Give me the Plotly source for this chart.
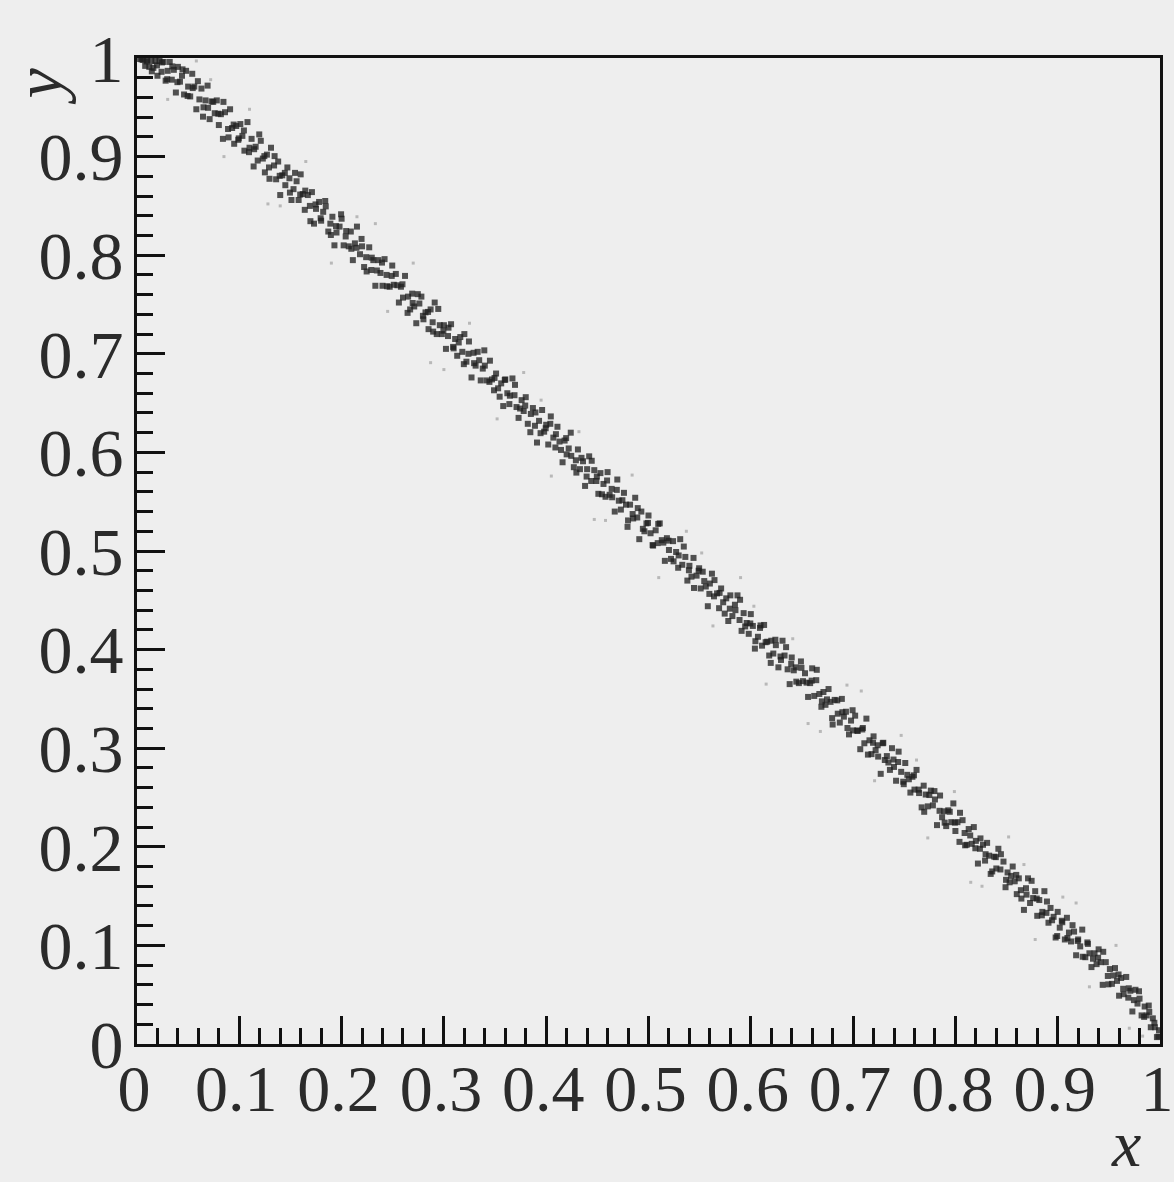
import plotly.graph_objects as go

# Dense band of (x, y) measurements lying just above the anti-diagonal
band_points = [
    (0.003, 0.999), (0.006, 0.998), (0.008, 0.992), (0.010, 0.998), (0.012, 0.991), (0.014, 0.997),
    (0.016, 0.990), (0.018, 0.997), (0.020, 0.982), (0.022, 0.997), (0.024, 0.986), (0.026, 0.996),
    (0.028, 0.977), (0.030, 0.987), (0.032, 0.996), (0.034, 0.978), (0.036, 0.988), (0.038, 0.965),
    (0.040, 0.991), (0.042, 0.976), (0.044, 0.982), (0.046, 0.963), (0.048, 0.987),
    (0.050, 0.971), (0.052, 0.961), (0.054, 0.984), (0.056, 0.971), (0.058, 0.948), (0.061, 0.958),
    (0.063, 0.969), (0.065, 0.950), (0.067, 0.957), (0.069, 0.972), (0.071, 0.938), (0.073, 0.956),
    (0.076, 0.944), (0.078, 0.957), (0.080, 0.932), (0.082, 0.943), (0.084, 0.918), (0.086, 0.945),
    (0.089, 0.928), (0.091, 0.948), (0.093, 0.929), (0.095, 0.913), (0.097, 0.931), (0.099, 0.917),
    (0.101, 0.933), (0.103, 0.921), (0.105, 0.906), (0.108, 0.935), (0.110, 0.909), (0.112, 0.918),
    (0.114, 0.890), (0.116, 0.910), (0.118, 0.896), (0.121, 0.916), (0.123, 0.898), (0.125, 0.884),
    (0.127, 0.902), (0.129, 0.889), (0.131, 0.909), (0.134, 0.891), (0.136, 0.877), (0.138, 0.895),
    (0.140, 0.861), (0.142, 0.881), (0.145, 0.871), (0.147, 0.889), (0.149, 0.878),
    (0.151, 0.856), (0.153, 0.867), (0.156, 0.875), (0.158, 0.856), (0.160, 0.882), (0.162, 0.862),
    (0.164, 0.846), (0.167, 0.861), (0.169, 0.850), (0.171, 0.864), (0.173, 0.832), (0.175, 0.847),
    (0.178, 0.854), (0.180, 0.835), (0.182, 0.844), (0.184, 0.855), (0.187, 0.824), (0.189, 0.832),
    (0.191, 0.839), (0.193, 0.810), (0.195, 0.823), (0.198, 0.829),
    (0.200, 0.837), (0.202, 0.810), (0.204, 0.819), (0.207, 0.809), (0.209, 0.824), (0.211, 0.795),
    (0.213, 0.812), (0.215, 0.829), (0.218, 0.801), (0.220, 0.809), (0.222, 0.788), (0.224, 0.798),
    (0.227, 0.808), (0.229, 0.785), (0.231, 0.795), (0.233, 0.769), (0.236, 0.795), (0.238, 0.782),
    (0.240, 0.769), (0.242, 0.796), (0.244, 0.780), (0.247, 0.768), (0.249, 0.779),
    (0.251, 0.770), (0.253, 0.781), (0.256, 0.752), (0.258, 0.768), (0.260, 0.757), (0.262, 0.779),
    (0.265, 0.758), (0.267, 0.745), (0.269, 0.761), (0.271, 0.748), (0.273, 0.731), (0.276, 0.751),
    (0.278, 0.758), (0.280, 0.735), (0.282, 0.742), (0.285, 0.725), (0.287, 0.745), (0.289, 0.732),
    (0.291, 0.752), (0.293, 0.720), (0.296, 0.729), (0.298, 0.720),
    (0.300, 0.729), (0.302, 0.705), (0.304, 0.718), (0.307, 0.730), (0.309, 0.707), (0.311, 0.715),
    (0.313, 0.698), (0.316, 0.717), (0.318, 0.702), (0.320, 0.720), (0.322, 0.692), (0.324, 0.700),
    (0.327, 0.676), (0.329, 0.701), (0.331, 0.688), (0.333, 0.702), (0.336, 0.673), (0.338, 0.685),
    (0.340, 0.688), (0.342, 0.673), (0.345, 0.693), (0.347, 0.674), (0.349, 0.663),
    (0.351, 0.680), (0.353, 0.665), (0.356, 0.670), (0.358, 0.647), (0.360, 0.674), (0.362, 0.660),
    (0.364, 0.649), (0.367, 0.675), (0.369, 0.658), (0.371, 0.646), (0.373, 0.635), (0.376, 0.653),
    (0.378, 0.642), (0.380, 0.656), (0.382, 0.629), (0.385, 0.639), (0.387, 0.645), (0.389, 0.627),
    (0.391, 0.610), (0.393, 0.632), (0.396, 0.643), (0.398, 0.621),
    (0.400, 0.628), (0.402, 0.608), (0.404, 0.629), (0.407, 0.615), (0.409, 0.605), (0.411, 0.626),
    (0.413, 0.611), (0.416, 0.590), (0.418, 0.612), (0.420, 0.598), (0.422, 0.604), (0.424, 0.620),
    (0.427, 0.585), (0.429, 0.592), (0.431, 0.603), (0.433, 0.583), (0.436, 0.591), (0.438, 0.566),
    (0.440, 0.583), (0.442, 0.596), (0.444, 0.571), (0.447, 0.582), (0.449, 0.571),
    (0.451, 0.558), (0.453, 0.579), (0.456, 0.568), (0.458, 0.555), (0.460, 0.580), (0.462, 0.557),
    (0.464, 0.563), (0.467, 0.540), (0.469, 0.562), (0.471, 0.551), (0.473, 0.542), (0.476, 0.559),
    (0.478, 0.547), (0.480, 0.531), (0.482, 0.547), (0.485, 0.533), (0.487, 0.554), (0.489, 0.534),
    (0.491, 0.512), (0.493, 0.540), (0.496, 0.520), (0.498, 0.528),
    (0.500, 0.536), (0.502, 0.518), (0.504, 0.506), (0.507, 0.521), (0.509, 0.508), (0.511, 0.528),
    (0.513, 0.511), (0.516, 0.490), (0.518, 0.513), (0.520, 0.501), (0.522, 0.492), (0.524, 0.510),
    (0.527, 0.499), (0.529, 0.483), (0.531, 0.512), (0.533, 0.486), (0.536, 0.494), (0.538, 0.470),
    (0.540, 0.485), (0.542, 0.474), (0.544, 0.493), (0.547, 0.475), (0.549, 0.480),
    (0.551, 0.462), (0.553, 0.479), (0.556, 0.464), (0.558, 0.444), (0.560, 0.467), (0.562, 0.477),
    (0.564, 0.454), (0.567, 0.457), (0.569, 0.442), (0.571, 0.462), (0.573, 0.448), (0.576, 0.452),
    (0.578, 0.429), (0.580, 0.455), (0.582, 0.434), (0.585, 0.440), (0.587, 0.455), (0.589, 0.430),
    (0.591, 0.419), (0.593, 0.437), (0.596, 0.427), (0.598, 0.416),
    (0.600, 0.436), (0.602, 0.424), (0.604, 0.401), (0.607, 0.413), (0.609, 0.422), (0.611, 0.404),
    (0.613, 0.425), (0.616, 0.408), (0.618, 0.394), (0.620, 0.409), (0.622, 0.396), (0.624, 0.410),
    (0.627, 0.382), (0.629, 0.393), (0.631, 0.409), (0.633, 0.394), (0.636, 0.380), (0.638, 0.365),
    (0.640, 0.392), (0.642, 0.379), (0.644, 0.382), (0.647, 0.366), (0.649, 0.388),
    (0.651, 0.368), (0.653, 0.376), (0.656, 0.352), (0.658, 0.366), (0.660, 0.381), (0.662, 0.353),
    (0.664, 0.369), (0.667, 0.355), (0.669, 0.342), (0.671, 0.357), (0.673, 0.344), (0.676, 0.360),
    (0.678, 0.347), (0.680, 0.324), (0.682, 0.349), (0.685, 0.335), (0.687, 0.326), (0.689, 0.350),
    (0.691, 0.332), (0.693, 0.337), (0.696, 0.314), (0.698, 0.328),
    (0.700, 0.318), (0.702, 0.333), (0.704, 0.318), (0.707, 0.299), (0.709, 0.319), (0.711, 0.305),
    (0.713, 0.330), (0.716, 0.308), (0.718, 0.294), (0.720, 0.312), (0.722, 0.298), (0.724, 0.303),
    (0.727, 0.274), (0.729, 0.305), (0.731, 0.288), (0.733, 0.292), (0.736, 0.278), (0.738, 0.300),
    (0.740, 0.281), (0.742, 0.267), (0.744, 0.286), (0.747, 0.276), (0.749, 0.266),
    (0.751, 0.285), (0.753, 0.273), (0.756, 0.255), (0.758, 0.271), (0.760, 0.258), (0.762, 0.278),
    (0.764, 0.258), (0.767, 0.240), (0.769, 0.262), (0.771, 0.253), (0.773, 0.241), (0.776, 0.257),
    (0.778, 0.242), (0.780, 0.248), (0.782, 0.222), (0.785, 0.252), (0.787, 0.230), (0.789, 0.236),
    (0.791, 0.221), (0.793, 0.237), (0.796, 0.225), (0.798, 0.244),
    (0.800, 0.216), (0.802, 0.225), (0.804, 0.205), (0.807, 0.227), (0.809, 0.214), (0.811, 0.202),
    (0.813, 0.218), (0.816, 0.203), (0.818, 0.220), (0.820, 0.206), (0.822, 0.183), (0.824, 0.198),
    (0.827, 0.202), (0.829, 0.186), (0.831, 0.204), (0.833, 0.191), (0.836, 0.175), (0.838, 0.190),
    (0.840, 0.178), (0.842, 0.198), (0.844, 0.177), (0.847, 0.185), (0.849, 0.159),
    (0.851, 0.174), (0.853, 0.164), (0.856, 0.180), (0.858, 0.165), (0.860, 0.152), (0.862, 0.168),
    (0.864, 0.156), (0.867, 0.136), (0.869, 0.158), (0.871, 0.168), (0.873, 0.143), (0.876, 0.148),
    (0.878, 0.155), (0.880, 0.130), (0.882, 0.146), (0.885, 0.134), (0.887, 0.155), (0.889, 0.133),
    (0.891, 0.123), (0.893, 0.138), (0.896, 0.129), (0.898, 0.108),
    (0.900, 0.134), (0.902, 0.118), (0.904, 0.125), (0.907, 0.106), (0.909, 0.128), (0.911, 0.113),
    (0.913, 0.104), (0.916, 0.114), (0.918, 0.090), (0.920, 0.106), (0.922, 0.099), (0.924, 0.116),
    (0.927, 0.088), (0.929, 0.103), (0.931, 0.092), (0.933, 0.078), (0.936, 0.092), (0.938, 0.081),
    (0.940, 0.096), (0.942, 0.083), (0.944, 0.060), (0.947, 0.083), (0.949, 0.069),
    (0.951, 0.076), (0.953, 0.061), (0.956, 0.077), (0.958, 0.064), (0.960, 0.049), (0.962, 0.067),
    (0.964, 0.056), (0.967, 0.068), (0.969, 0.047), (0.971, 0.054), (0.973, 0.033), (0.976, 0.055),
    (0.978, 0.041), (0.980, 0.046), (0.982, 0.029), (0.985, 0.038), (0.987, 0.029), (0.989, 0.039),
    (0.991, 0.017), (0.993, 0.026), (0.995, 0.017), (0.997, 0.007), (0.999, 0.014),
]

# Further band points falling between the ones above
band_points_b = [
    (0.0045, 0.9985), (0.0095, 0.9965), (0.0145, 0.9865), (0.0195, 0.9925), (0.0245, 0.9955),
    (0.0295, 0.9785), (0.0345, 0.9915), (0.0395, 0.9755), (0.0445, 0.9885), (0.0495, 0.9615),
    (0.0545, 0.9695), (0.0595, 0.9765), (0.0645, 0.9405), (0.0695, 0.9495), (0.0745, 0.9555),
    (0.0795, 0.9435), (0.0845, 0.9555), (0.0895, 0.9195), (0.0945, 0.9325), (0.0995, 0.9185),
    (0.1045, 0.9265), (0.1095, 0.9045), (0.1145, 0.9075), (0.1195, 0.9225), (0.1245, 0.9005),
    (0.1295, 0.8775), (0.1345, 0.9005), (0.1395, 0.8805), (0.1445, 0.8835), (0.1495, 0.8635),
    (0.1545, 0.8835), (0.1595, 0.8615), (0.1645, 0.8655), (0.1695, 0.8345), (0.1745, 0.8515),
    (0.1795, 0.8375), (0.1845, 0.8495), (0.1895, 0.8205), (0.1945, 0.8295), (0.1995, 0.8415),
    (0.2045, 0.8245), (0.2095, 0.8065), (0.2145, 0.8075), (0.2195, 0.8165), (0.2245, 0.7835),
    (0.2295, 0.7975), (0.2345, 0.7845), (0.2395, 0.7925), (0.2445, 0.7685), (0.2495, 0.7895),
    (0.2545, 0.7695), (0.2595, 0.7705), (0.2645, 0.7415), (0.2695, 0.7515), (0.2745, 0.7605),
    (0.2795, 0.7385), (0.2845, 0.7425), (0.2895, 0.7225), (0.2945, 0.7455), (0.2995, 0.7235),
    (0.3045, 0.7265), (0.3095, 0.7055), (0.3145, 0.7115), (0.3195, 0.6895), (0.3245, 0.7125),
    (0.3295, 0.6905), (0.3345, 0.6935), (0.3395, 0.7035), (0.3445, 0.6715), (0.3495, 0.6755),
    (0.3545, 0.6565), (0.3595, 0.6735), (0.3645, 0.6575), (0.3695, 0.6685), (0.3745, 0.6445),
    (0.3795, 0.6475), (0.3845, 0.6205), (0.3895, 0.6405), (0.3945, 0.6195), (0.3995, 0.6245),
    (0.4045, 0.6365), (0.4095, 0.6185), (0.4145, 0.6025), (0.4195, 0.6145), (0.4245, 0.5965),
    (0.4295, 0.5795), (0.4345, 0.5945), (0.4395, 0.5755), (0.4445, 0.5915), (0.4495, 0.5755),
    (0.4545, 0.5575), (0.4595, 0.5715), (0.4645, 0.5545), (0.4695, 0.5725), (0.4745, 0.5515),
    (0.4795, 0.5245), (0.4845, 0.5375), (0.4895, 0.5435), (0.4945, 0.5225), (0.4995, 0.5285),
    (0.5045, 0.5055), (0.5095, 0.5275), (0.5145, 0.5085), (0.5195, 0.5105), (0.5245, 0.4895),
    (0.5295, 0.4955), (0.5345, 0.5045), (0.5395, 0.4805), (0.5445, 0.4625), (0.5495, 0.4825),
    (0.5545, 0.4695), (0.5595, 0.4565), (0.5645, 0.4705), (0.5695, 0.4575), (0.5745, 0.4365),
    (0.5795, 0.4415), (0.5845, 0.4455), (0.5895, 0.4505), (0.5945, 0.4235), (0.5995, 0.4265),
    (0.6045, 0.4085), (0.6095, 0.4245), (0.6145, 0.4075), (0.6195, 0.3865), (0.6245, 0.4045),
    (0.6295, 0.3895), (0.6345, 0.4025), (0.6395, 0.3855), (0.6445, 0.3675), (0.6495, 0.3815),
    (0.6545, 0.3665), (0.6595, 0.3685), (0.6645, 0.3795), (0.6695, 0.3475), (0.6745, 0.3495),
    (0.6795, 0.3305), (0.6845, 0.3485), (0.6895, 0.3365), (0.6945, 0.3205), (0.6995, 0.3385),
    (0.7045, 0.3175), (0.7095, 0.3205), (0.7145, 0.2935), (0.7195, 0.3055), (0.7245, 0.2915),
    (0.7295, 0.3055), (0.7345, 0.2855), (0.7395, 0.2885), (0.7445, 0.2965), (0.7495, 0.2635),
    (0.7545, 0.2685), (0.7595, 0.2725), (0.7645, 0.2545), (0.7695, 0.2355), (0.7745, 0.2525),
    (0.7795, 0.2565), (0.7845, 0.2365), (0.7895, 0.2245), (0.7945, 0.2355), (0.7995, 0.2245),
    (0.8045, 0.2345), (0.8095, 0.2015), (0.8145, 0.2115), (0.8195, 0.1985), (0.8245, 0.2085),
    (0.8295, 0.1925), (0.8345, 0.1725), (0.8395, 0.1895), (0.8445, 0.1925), (0.8495, 0.1665),
    (0.8545, 0.1705), (0.8595, 0.1715), (0.8645, 0.1475), (0.8695, 0.1515), (0.8745, 0.1655),
    (0.8795, 0.1475), (0.8845, 0.1305), (0.8895, 0.1445), (0.8945, 0.1255), (0.8995, 0.1095),
    (0.9045, 0.1235), (0.9095, 0.1075), (0.9145, 0.1205), (0.9195, 0.1045), (0.9245, 0.0885),
    (0.9295, 0.1015), (0.9345, 0.0865), (0.9395, 0.0875), (0.9445, 0.0935), (0.9495, 0.0605),
    (0.9545, 0.0695), (0.9595, 0.0705), (0.9645, 0.0505), (0.9695, 0.0565), (0.9745, 0.0445),
    (0.9795, 0.0535), (0.9845, 0.0275), (0.9895, 0.0325), (0.9945, 0.0215), (0.9985, 0.0075),
]

# Sparse, faint points scattered either side of the band
halo_points = [
    (0.030, 0.958), (0.058, 0.997), (0.072, 0.978), (0.085, 0.900), (0.110, 0.948), (0.128, 0.852),
    (0.140, 0.850), (0.165, 0.895), (0.190, 0.792), (0.215, 0.839), (0.233, 0.832), (0.245, 0.743),
    (0.270, 0.792), (0.287, 0.691), (0.300, 0.684), (0.325, 0.731), (0.352, 0.634), (0.378, 0.681),
    (0.395, 0.653), (0.405, 0.576), (0.432, 0.621), (0.447, 0.532), (0.458, 0.531), (0.484, 0.577),
    (0.510, 0.473), (0.537, 0.520), (0.552, 0.498), (0.563, 0.424), (0.590, 0.473), (0.603, 0.444),
    (0.615, 0.365), (0.641, 0.411), (0.656, 0.325), (0.668, 0.317), (0.694, 0.364), (0.708, 0.358),
    (0.721, 0.267), (0.747, 0.313), (0.762, 0.288), (0.773, 0.209), (0.799, 0.256), (0.815, 0.164),
    (0.826, 0.160), (0.852, 0.210), (0.867, 0.182), (0.878, 0.106), (0.905, 0.149), (0.918, 0.143),
    (0.931, 0.058), (0.957, 0.100), (0.970, 0.016), (0.983, 0.008),
]

tick_values = [0.0, 0.1, 0.2, 0.3, 0.4, 0.5, 0.6, 0.7, 0.8, 0.9, 1.0]
tick_labels = ["0", "0.1", "0.2", "0.3", "0.4", "0.5", "0.6", "0.7", "0.8", "0.9", "1"]

all_band = band_points + band_points_b
band_x = [p[0] for p in all_band]
band_y = [p[1] for p in all_band]
halo_x = [p[0] for p in halo_points]
halo_y = [p[1] for p in halo_points]

SERIF = "Liberation Serif, Times New Roman, serif"
BG = "#eeeeee"
INK = "#2b2b2b"

fig = go.Figure()
fig.add_trace(go.Scatter(
    x=halo_x, y=halo_y, mode="markers",
    marker=dict(symbol="square", size=3, color="#b8b8b8", line=dict(width=0)),
    hoverinfo="skip", showlegend=False,
))
fig.add_trace(go.Scatter(
    x=band_x, y=band_y, mode="markers",
    marker=dict(symbol="square", size=6, color="#1e1e1e", opacity=0.76, line=dict(width=0)),
    showlegend=False,
))

axis_common = dict(
    range=[0, 1],
    automargin=False,
    showgrid=False,
    zeroline=False,
    showline=True,
    linecolor="#111111",
    linewidth=3,
    mirror=True,
    ticks="inside",
    ticklen=28,
    tickwidth=2.5,
    tickcolor="#111111",
    tickmode="array",
    tickvals=tick_values,
    ticktext=tick_labels,
    tickangle=0,
    ticklabeloverflow="allow",
    tickfont=dict(family=SERIF, size=68, color=INK),
    minor=dict(ticks="inside", ticklen=16, tickwidth=2.5, tickcolor="#111111",
               dtick=0.02, tick0=0, showgrid=False),
    fixedrange=True,
)

xaxis = dict(axis_common)
xaxis["tickfont"] = dict(family=SERIF, size=66, color=INK)
xaxis["ticklabelstandoff"] = -15
xaxis["ticklabelshift"] = -3
yaxis = dict(axis_common)
yaxis["ticklabelstandoff"] = -3

fig.update_layout(
    width=1174,
    height=1182,
    margin=dict(l=137, r=14, t=58, b=138, autoexpand=False),
    paper_bgcolor=BG,
    plot_bgcolor=BG,
    xaxis=xaxis,
    yaxis=yaxis,
    annotations=[
        dict(text="<i>x</i>", xref="paper", yref="paper", x=0.967, y=-0.1005,
             xanchor="center", yanchor="middle", showarrow=False,
             font=dict(family=SERIF, size=66, color=INK)),
        dict(text="<i>y</i>", xref="paper", yref="paper", x=-0.096, y=0.972,
             xanchor="center", yanchor="middle", showarrow=False, textangle=-90,
             font=dict(family=SERIF, size=68, color=INK)),
    ],
)

fig.write_html("out.html")
